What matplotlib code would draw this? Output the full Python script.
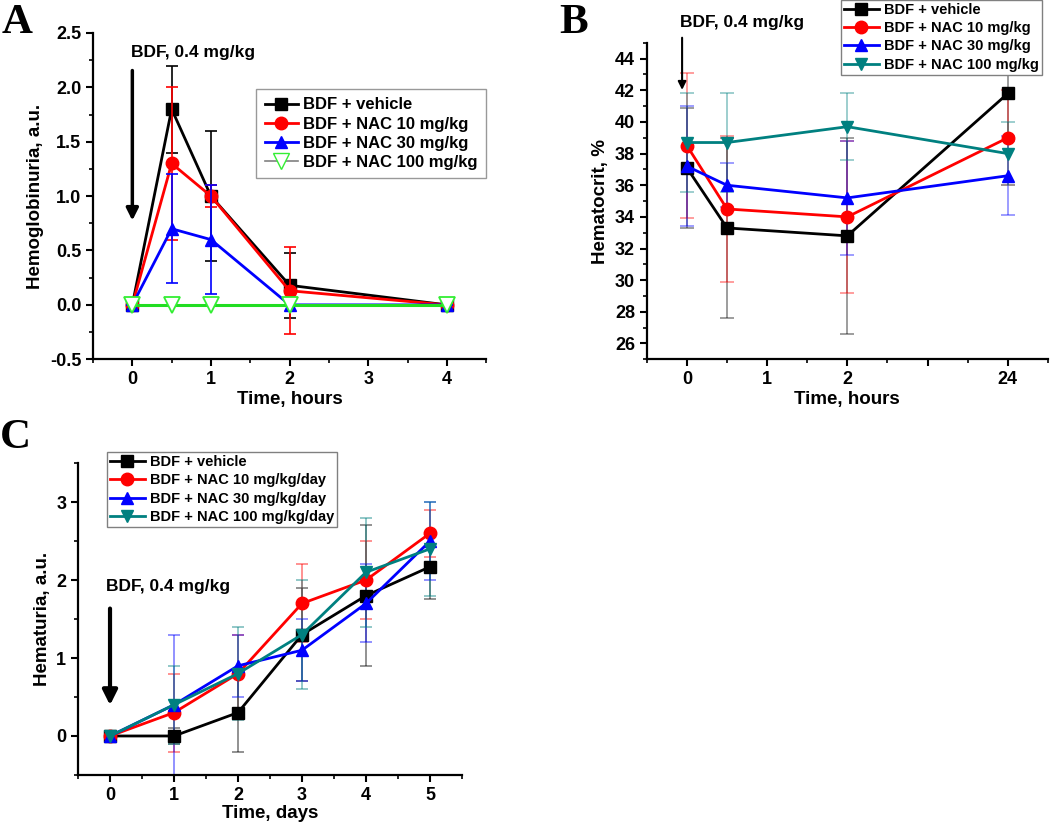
import numpy as np
import matplotlib
matplotlib.use('Agg')
import matplotlib.pyplot as plt
from matplotlib.lines import Line2D
from matplotlib.ticker import MultipleLocator, FixedLocator

plt.rcParams['font.family'] = ['Liberation Sans', 'DejaVu Sans']
plt.rcParams['font.weight'] = 'bold'

# --- panel A: hemoglobinuria ---
a_time = [0, 0.5, 1, 2, 4]
a_labels = ['BDF + vehicle', 'BDF + NAC 10 mg/kg', 'BDF + NAC 30 mg/kg', 'BDF + NAC 100 mg/kg']
a_vehicle = [0, 1.8, 1.0, 0.18, 0]
a_vehicle_err = [0, 0.4, 0.6, 0.30, 0]
a_nac10 = [0, 1.3, 1.0, 0.13, 0]
a_nac10_err = [0, 0.7, 0.1, 0.40, 0]
a_nac30 = [0, 0.7, 0.6, 0, 0]
a_nac30_err = [0, 0.5, 0.5, 0, 0]
a_nac100 = [0, 0, 0, 0, 0]

# --- panel B: hematocrit ---
b_time = [0, 0.5, 2, 24]
b_tick_labels = ['0', '1', '2', '', '24']
b_vehicle = [37.1, 33.3, 32.8, 41.8]
b_vehicle_err = [3.8, 5.7, 6.2, 3.0]
b_nac10 = [38.5, 34.5, 34.0, 39.0]
b_nac10_err = [4.6, 4.6, 4.8, 3.0]
b_nac30 = [37.2, 36.0, 35.2, 36.6]
b_nac30_err = [3.8, 1.4, 3.6, 2.5]
b_nac100 = [38.7, 38.7, 39.7, 38.0]
b_nac100_err = [3.1, 3.1, 2.1, 2.0]

# --- panel C: hematuria ---
c_day = [0, 1, 2, 3, 4, 5]
c_labels = ['BDF + vehicle', 'BDF + NAC 10 mg/kg/day', 'BDF + NAC 30 mg/kg/day', 'BDF + NAC 100 mg/kg/day']
c_vehicle = [0, 0, 0.3, 1.3, 1.8, 2.17]
c_vehicle_err = [0, 0.1, 0.5, 0.6, 0.9, 0.41]
c_nac10 = [0, 0.3, 0.8, 1.7, 2.0, 2.6]
c_nac10_err = [0, 0.5, 0.5, 0.5, 0.5, 0.3]
c_nac30 = [0, 0.4, 0.9, 1.1, 1.7, 2.5]
c_nac30_err = [0, 0.9, 0.4, 0.4, 0.5, 0.5]
c_nac100 = [0, 0.4, 0.8, 1.3, 2.1, 2.4]
c_nac100_err = [0, 0.5, 0.6, 0.7, 0.7, 0.6]

colors = ['black', '#ff0000', '#0000ff', '#008080']
markers = ['s', 'o', '^', 'v']


def b_axis(t):
    # broken time axis: 0..2 h linear, 24 h drawn at slot 4
    return [v if v <= 2 else 4 for v in t]


def style_axes(ax):
    ax.spines['top'].set_visible(False)
    ax.spines['right'].set_visible(False)
    for s in ['left', 'bottom']:
        ax.spines[s].set_linewidth(1.6)
    ax.tick_params(which='major', direction='out', length=5, width=1.5, labelsize=13)
    ax.tick_params(which='minor', direction='out', length=3, width=1.2)
    for lab in ax.get_xticklabels() + ax.get_yticklabels():
        lab.set_fontweight('bold')


def bold_legend(leg):
    for t in leg.get_texts():
        t.set_fontweight('bold')


fig = plt.figure(figsize=(10.5, 8.24), dpi=100)

# ---------------- A ----------------
axA = fig.add_axes([0.0886, 0.564, 0.3744, 0.396])
seriesA = [(a_vehicle, a_vehicle_err), (a_nac10, a_nac10_err), (a_nac30, a_nac30_err)]
for i, (y, e) in enumerate(seriesA):
    axA.errorbar(a_time, y, yerr=e, color=colors[i], marker=markers[i], markersize=9,
                 lw=2, elinewidth=1.2, capsize=4, capthick=1.2, zorder=3 + i)
axA.plot(a_time, a_nac100, color='#22dd22', lw=2.2, marker='v', markersize=11,
         markerfacecolor='white', markeredgecolor='#33ee33', markeredgewidth=1.3, zorder=7)
axA.set_xlim(-0.5, 4.5)
axA.set_ylim(-0.5, 2.5)
axA.xaxis.set_major_locator(MultipleLocator(1))
axA.xaxis.set_minor_locator(MultipleLocator(0.5))
axA.yaxis.set_major_locator(MultipleLocator(0.5))
axA.yaxis.set_minor_locator(MultipleLocator(0.25))
axA.yaxis.set_major_formatter(plt.FormatStrFormatter('%.1f'))
axA.set_xlabel('Time, hours', fontsize=13.5, fontweight='bold', labelpad=2)
axA.set_ylabel('Hemoglobinuria, a.u.', fontsize=13.5, fontweight='bold')
style_axes(axA)
handlesA = [Line2D([], [], color=colors[i], marker=markers[i], markersize=9, lw=2) for i in range(3)]
handlesA.append(Line2D([], [], color='gray', marker='v', markersize=11, lw=1.2,
                       markerfacecolor='white', markeredgecolor='#33ee33'))
legA = axA.legend(handlesA, a_labels, loc='upper left', bbox_to_anchor=(0.415, 0.828),
                  fontsize=12, handlelength=2.0, fancybox=False, edgecolor='gray',
                  borderpad=0.5, labelspacing=0.25, handletextpad=0.3, borderaxespad=0)
bold_legend(legA)
axA.annotate('', xy=(0, 0.75), xytext=(0, 2.18),
             arrowprops=dict(arrowstyle='-|>', color='black', lw=2.5, mutation_scale=18))
axA.text(-0.02, 2.32, 'BDF, 0.4 mg/kg', fontsize=12.5, fontweight='bold', va='center')
fig.text(0.002, 0.972, 'A', fontsize=31, fontweight='bold', family='Liberation Serif', va='center')

# ---------------- B ----------------
axB = fig.add_axes([0.616, 0.564, 0.382, 0.384])
seriesB = [(b_vehicle, b_vehicle_err), (b_nac10, b_nac10_err),
           (b_nac30, b_nac30_err), (b_nac100, b_nac100_err)]
xb = b_axis(b_time)
for i, (y, e) in enumerate(seriesB):
    axB.errorbar(xb, y, yerr=e, fmt='none', ecolor=colors[i], alpha=0.45,
                 elinewidth=1.2, capsize=5, capthick=1.2, zorder=2)
for i, (y, e) in enumerate(seriesB):
    axB.plot(xb, y, color=colors[i], marker=markers[i], markersize=9, lw=2,
             label=a_labels[i], zorder=3 + i)
axB.set_xlim(-0.5, 4.5)
axB.set_ylim(25, 45)
axB.xaxis.set_major_locator(FixedLocator([0, 1, 2, 3, 4]))
axB.set_xticklabels(b_tick_labels)
axB.xaxis.set_minor_locator(MultipleLocator(0.5))
axB.yaxis.set_major_locator(FixedLocator(np.arange(26, 45, 2)))
axB.yaxis.set_minor_locator(MultipleLocator(1))
axB.set_xlabel('Time, hours', fontsize=13.5, fontweight='bold', labelpad=2)
axB.set_ylabel('Hematocrit, %', fontsize=13.5, fontweight='bold')
style_axes(axB)
legB = axB.legend(loc='upper right', bbox_to_anchor=(0.985, 1.136), fontsize=10.5,
                  handlelength=2.4, fancybox=False, edgecolor='gray', framealpha=1,
                  borderpad=0.2, labelspacing=0.3, handletextpad=0.35, borderaxespad=0)
bold_legend(legB)
axB.annotate('', xy=(-0.06, 41.85), xytext=(-0.06, 45.5), annotation_clip=False,
             arrowprops=dict(arrowstyle='-|>', color='black', lw=1.5, mutation_scale=12))
axB.text(-0.08, 46.3, 'BDF, 0.4 mg/kg', fontsize=12.5, fontweight='bold', va='center', clip_on=False)
fig.text(0.533, 0.972, 'B', fontsize=31, fontweight='bold', family='Liberation Serif', va='center')

# ---------------- C ----------------
axC = fig.add_axes([0.0743, 0.0595, 0.3657, 0.3785])
seriesC = [(c_vehicle, c_vehicle_err), (c_nac10, c_nac10_err),
           (c_nac30, c_nac30_err), (c_nac100, c_nac100_err)]
for i, (y, e) in enumerate(seriesC):
    axC.errorbar(c_day, y, yerr=e, fmt='none', ecolor=colors[i], alpha=0.5,
                 elinewidth=1.2, capsize=4, capthick=1.2, zorder=2)
for i, (y, e) in enumerate(seriesC):
    axC.plot(c_day, y, color=colors[i], marker=markers[i], markersize=9, lw=2,
             label=c_labels[i], zorder=3 + i)
axC.set_xlim(-0.5, 5.5)
axC.set_ylim(-0.5, 3.5)
axC.xaxis.set_major_locator(MultipleLocator(1))
axC.xaxis.set_minor_locator(MultipleLocator(0.5))
axC.yaxis.set_major_locator(FixedLocator([0, 1, 2, 3]))
axC.yaxis.set_minor_locator(MultipleLocator(0.5))
axC.set_xlabel('Time, days', fontsize=13.5, fontweight='bold', labelpad=1)
axC.set_ylabel('Hematuria, a.u.', fontsize=13.5, fontweight='bold')
style_axes(axC)
legC = axC.legend(loc='upper left', bbox_to_anchor=(0.075, 1.035), fontsize=10.5,
                  handlelength=2.4, fancybox=False, edgecolor='gray', framealpha=1,
                  borderpad=0.2, labelspacing=0.3, handletextpad=0.35, borderaxespad=0)
bold_legend(legC)
axC.annotate('', xy=(0, 0.36), xytext=(0, 1.67),
             arrowprops=dict(arrowstyle='-|>', color='black', lw=3, mutation_scale=22))
axC.text(-0.06, 1.92, 'BDF, 0.4 mg/kg', fontsize=12.5, fontweight='bold', va='center')
fig.text(0.0, 0.468, 'C', fontsize=31, fontweight='bold', family='Liberation Serif', va='center')

fig.savefig('out.png', dpi=100)
